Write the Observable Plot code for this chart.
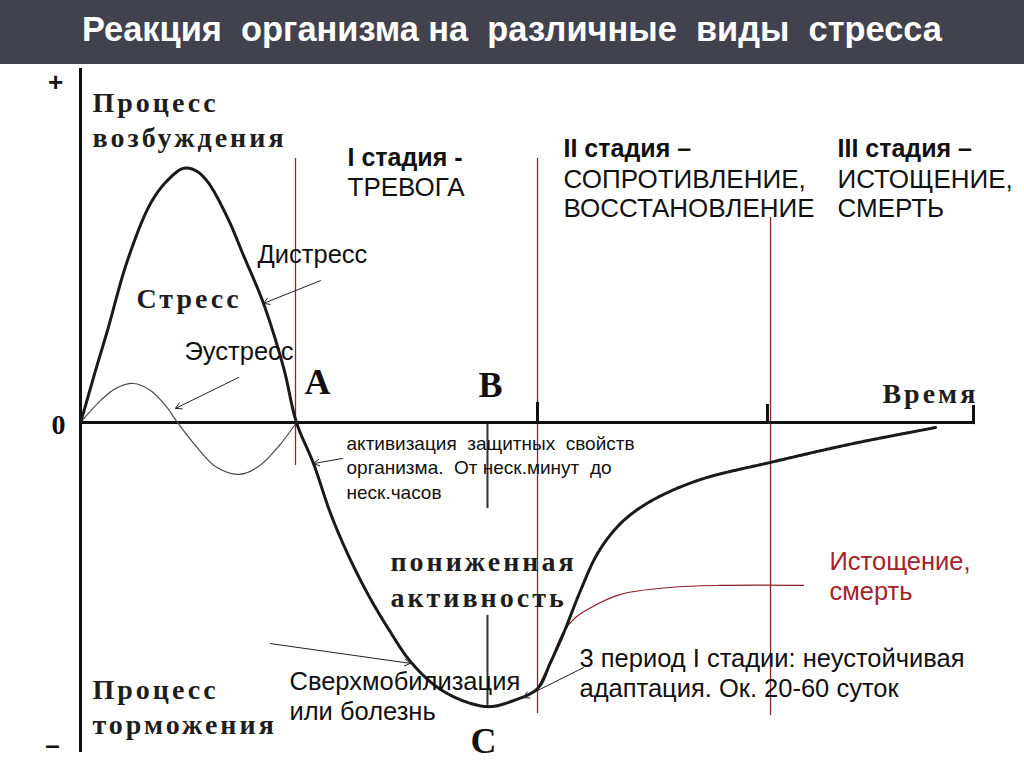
<!DOCTYPE html>
<html>
<head>
<meta charset="utf-8">
<script src="https://cdn.jsdelivr.net/npm/d3@7"></script>
<script src="https://cdn.jsdelivr.net/npm/@observablehq/plot@0.6"></script>
<style>
  html, body { margin: 0; padding: 0; background: #ffffff; }
  #wrap { width: 1024px; height: 768px; overflow: hidden; }
  #title { display: block; }
</style>
</head>
<body>
<div id="wrap">
  <svg id="title" width="1024" height="64">
    <rect width="1024" height="64" fill="#42424e"></rect>
    <text x="512" y="41" text-anchor="middle" fill="#ffffff" font-family="'Liberation Sans Narrow','Liberation Sans',Arial,sans-serif" font-weight="bold" font-size="35" textLength="860" lengthAdjust="spacingAndGlyphs" style="white-space:pre">Реакция  организма на  различные  виды  стресса</text>
  </svg>
  <div id="chart"></div>
</div>
<script>
// ---- data (time t, level v) ----
const stressT = [0,0.33,1.67,3.0,5.22,7.78,9.67,11.44,12.78,14.11,16.33,18.11,20.33,22.56,24.0,25.89,27.78,29.67,31.89,34.11,36.67,39.67,43.0,45.56,48.11,50.78,52.22,53.67,55.56,57.44,59.67,61.89,64.78,69.22,76.67,85.89,95.0];
const stressV = [0,3.3,17.3,30.7,54.0,73.0,80.7,84.7,84.0,80.3,68.3,55.7,39.7,18.3,0,-13.7,-30.3,-43.7,-57.0,-68.3,-79.7,-88.3,-93.3,-94.7,-92.7,-88.7,-80.0,-70.3,-56.0,-43.7,-34.7,-29.0,-24.0,-18.7,-13.3,-7.0,-1.7];

const eustressT = [0,2.22,3.89,5.89,7.78,9.44,10.78,12.78,15.0,17.56,19.78,22.0,24.0];
const eustressV = [0,7.3,11.3,13.0,10.7,5.7,0,-7.7,-14.7,-17.3,-14.7,-8.0,0];

const exhaustT = [50.78,52.22,53.67,55.0,56.33,60.0,65.56,71.11,80.33];
const exhaustV = [-88.7,-79.7,-69.7,-65.0,-62.3,-57.3,-55.0,-54.3,-54.3];

const stageLineT = [23.89, 50.78, 76.67];
const stageLineTop = [88, 88, 68.3];
const stageLineBottom = [-14.3, -97, -97.7];

const tickT = [50.78, 76.33, 99.22];
const tickTop = [6.7, 6.0, 5.7];
const tickBottom = [0, 0, -0.7];

const markerT = [45.22, 45.22];
const markerTop = [0, -64.3];
const markerBottom = [-28.7, -94.3];

const axisEndT = 99.22;
const axisTopV = 118;
const axisBottomV = -110;

const arrowT1 = [26.67, 17.56, 29.11, 21.11, 55.89];
const arrowV1 = [47.3, 15.0, -12.0, -73.7, -81.7];
const arrowT2 = [20.33, 10.56, 25.89, 36.67, 49.22];
const arrowV2 = [39.7, 4.7, -13.7, -80.3, -91.7];

const serifLabels = ["Процесс\nвозбуждения", "Стресс", "Процесс\nторможения", "пониженная\nактивность", "Время"];
const serifT = [1.33, 6.22, 1.33, 34.44, 89.1];
const serifV = [101.5, 42, -94.2, -51.7, 10.3];

const pointLabels = ["A", "B", "C"];
const pointT = [26.33, 45.56, 44.78];
const pointV = [13.3, 12.3, -106.3];

const signLabels = ["+", "–"];
const signT = [-2.78, -3.11];
const signV = [113.3, -107.7];
const zeroLabel = "0";
const zeroT = -2.44, zeroV = -0.7;

const stageTitles = ["I стадия -", "II стадия –", "III стадия –"];
const stageNames = ["ТРЕВОГА", "СОПРОТИВЛЕНИЕ,\nВОССТАНОВЛЕНИЕ", "ИСТОЩЕНИЕ,\nСМЕРТЬ"];
const stageT = [29.67, 53.67, 84.11];
const stageTitleV = [88.3, 91.3, 91.3];
const stageNameV = [78.7, 76.5, 76.5];

const noteLabels = ["Дистресс", "Эустресс", "Сверхмобилизация\nили болезнь", "3 период I стадии: неустойчивая\nадаптация. Ок. 20-60 суток"];
const noteT = [19.67, 11.56, 23.22, 55.44];
const noteV = [56.3, 24, -91, -83.3];

const smallNote = "активизация  защитных  свойств\nорганизма.  От неск.минут  до\nнеск.часов";
const smallT = 29.56, smallV = -14.7;

const redNote = "Истощение,\nсмерть";
const redT = 83.22, redV = -51;

// ---- tables ----
const zip = (t, v) => t.map((d, i) => ({t: d, v: v[i]}));
const stress = zip(stressT, stressV);
const eustress = zip(eustressT, eustressV);
const exhaust = zip(exhaustT, exhaustV);
const stageLines = stageLineT.map((t, i) => ({t, y1: stageLineTop[i], y2: stageLineBottom[i]}));
const ticks = tickT.map((t, i) => ({t, y1: tickTop[i], y2: tickBottom[i]}));
const markers = markerT.map((t, i) => ({t, y1: markerTop[i], y2: markerBottom[i]}));
const arrows = arrowT1.map((t, i) => ({x1: t, y1: arrowV1[i], x2: arrowT2[i], y2: arrowV2[i]}));
const lab = (labels, t, v) => labels.map((text, i) => ({text, t: t[i], v: v[i]}));

const SERIF = "'Liberation Serif','Times New Roman',serif";
const SANS = "'Liberation Sans',Arial,sans-serif";

const chart = Plot.plot({
  width: 1024,
  height: 704,
  marginLeft: 80,
  marginRight: 44,
  marginTop: 4,
  marginBottom: 4,
  x: {domain: [0, 100], axis: null},
  y: {domain: [-114, 118], axis: null},
  style: {background: "#ffffff", overflow: "visible"},
  marks: [
    // stage separators
    Plot.ruleX(stageLines, {x: "t", y1: "y1", y2: "y2", stroke: "#8a2626", strokeWidth: 1.3}),
    // black markers near B / C
    Plot.ruleX(markers, {x: "t", y1: "y1", y2: "y2", stroke: "#333333", strokeWidth: 2}),
    // axes
    Plot.ruleY([0], {x1: 0, x2: axisEndT, stroke: "#111111", strokeWidth: 3}),
    Plot.ruleX([0], {y1: axisBottomV, y2: axisTopV, stroke: "#111111", strokeWidth: 3}),
    Plot.ruleX(ticks, {x: "t", y1: "y1", y2: "y2", stroke: "#111111", strokeWidth: 3}),
    // curves
    Plot.line(eustress, {x: "t", y: "v", curve: "catmull-rom", stroke: "#4a4a4a", strokeWidth: 1.2}),
    Plot.line(exhaust, {x: "t", y: "v", curve: "catmull-rom", stroke: "#8b1e22", strokeWidth: 1.1}),
    Plot.line(stress, {x: "t", y: "v", curve: "catmull-rom", stroke: "#1a1a1a", strokeWidth: 3, strokeDasharray: "2.2,0.6"}),
    // arrows
    Plot.arrow(arrows, {x1: "x1", y1: "y1", x2: "x2", y2: "y2", stroke: "#222222", strokeWidth: 1, headLength: 10, bend: 0}),
    // serif labels
    Plot.text(lab(serifLabels, serifT, serifV), {x: "t", y: "v", text: "text", textAnchor: "start", lineAnchor: "middle", lineHeight: 1.27, fontFamily: SERIF, fontWeight: "bold", fontSize: 28, fill: "#1e1e1e"}),
    Plot.text(lab(pointLabels, pointT, pointV), {x: "t", y: "v", text: "text", textAnchor: "middle", lineAnchor: "middle", fontFamily: SERIF, fontWeight: "bold", fontSize: 36, fill: "#111111"}),
    Plot.text([{text: zeroLabel, t: zeroT, v: zeroV}], {x: "t", y: "v", text: "text", textAnchor: "middle", lineAnchor: "middle", fontFamily: SERIF, fontWeight: "bold", fontSize: 28, fill: "#111111"}),
    Plot.text(lab(signLabels, signT, signV), {x: "t", y: "v", text: "text", textAnchor: "middle", lineAnchor: "middle", fontFamily: SANS, fontWeight: "bold", fontSize: 26, fill: "#111111"}),
    // stage headers
    Plot.text(lab(stageTitles, stageT, stageTitleV), {x: "t", y: "v", text: "text", textAnchor: "start", lineAnchor: "middle", fontFamily: SANS, fontWeight: "bold", fontSize: 25, fill: "#111111"}),
    Plot.text(lab(stageNames, stageT, stageNameV), {x: "t", y: "v", text: "text", textAnchor: "start", lineAnchor: "middle", lineHeight: 1.14, fontFamily: SANS, fontSize: 26, fill: "#111111"}),
    // notes
    Plot.text(lab(noteLabels, noteT, noteV), {x: "t", y: "v", text: "text", textAnchor: "start", lineAnchor: "middle", lineHeight: 1.18, fontFamily: SANS, fontSize: 25.5, fill: "#111111"}),
    Plot.text([{text: smallNote, t: smallT, v: smallV}], {x: "t", y: "v", text: "text", textAnchor: "start", lineAnchor: "middle", lineHeight: 1.29, fontFamily: SANS, fontSize: 19, fill: "#111111"}),
    Plot.text([{text: redNote, t: redT, v: redV}], {x: "t", y: "v", text: "text", textAnchor: "start", lineAnchor: "middle", lineHeight: 1.18, fontFamily: SANS, fontSize: 25.5, fill: "#a3232a"})
  ]
});

// styling tweaks: spacing for serif labels, keep double spaces
d3.select(chart).selectAll("g").filter(function () {
  const f = this.getAttribute("font-family") || "";
  return f.indexOf("Serif") >= 0 && this.getAttribute("font-size") === "28" && this.querySelectorAll("text").length > 1;
}).attr("letter-spacing", 3);
d3.select(chart).selectAll("text").style("white-space", "pre");

document.getElementById("chart").appendChild(chart);
</script>
</body>
</html>
